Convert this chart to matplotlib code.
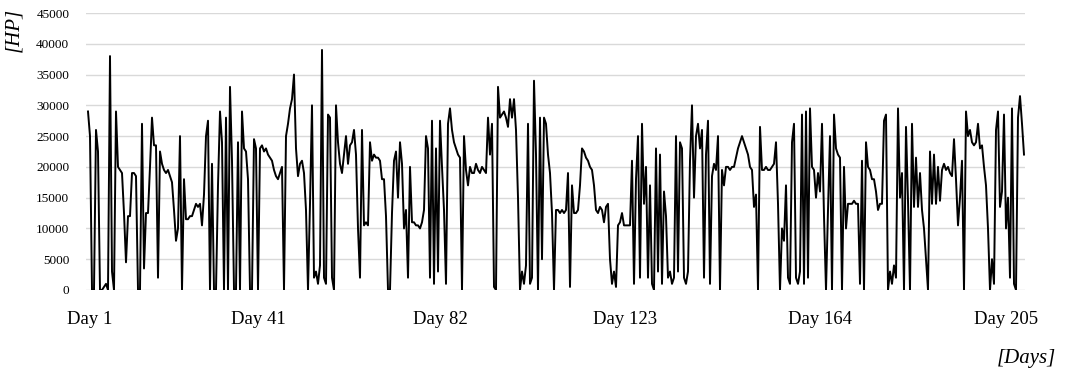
import matplotlib.pyplot as plt

# horsepower readings in thousands of HP, one sample every ~0.44 day
hp_k = [
    29, 25, 0, 0, 26, 22.5, 0, 0, 0.5, 1,
    0, 38, 3, 0, 29, 20, 19.5, 19, 12.5, 4.5,
    12, 12, 19, 19, 18.5, 0, 0, 27, 3.5, 12.5,
    12.5, 20, 28, 23.5, 23.5, 2, 22.5, 20.5, 19.5, 19,
    19.5, 18.5, 17.5, 13, 8, 10, 25, 0, 18, 11.5,
    11.5, 12, 12, 13, 14, 13.5, 14, 10.5, 15.5, 25,
    27.5, 0, 20.5, 0, 0, 17, 29, 24, 0, 28,
    0, 33, 21, 0, 0, 24, 0, 29, 23, 22.5,
    18, 0, 0, 24.5, 23, 0, 23, 23.5, 22.5, 23,
    22, 21.5, 21, 19.5, 18.5, 18, 19, 20, 0, 25,
    27, 29.5, 31, 35, 23, 18.5, 20.5, 21, 19, 13,
    0, 14, 30, 2, 3, 1, 4, 39, 2, 1,
    28.5, 28, 2, 0, 30, 24, 20.5, 19, 22, 25,
    20.5, 23.5, 24, 26, 22, 10, 2, 26, 10.5, 11,
    10.5, 24, 21, 22, 21.5, 21.5, 21, 18, 18, 12,
    0, 0, 12.5, 21, 22.5, 15, 24, 20.5, 10, 13,
    2, 20, 11, 11, 10.5, 10.5, 10, 11, 13, 25,
    23, 2, 27.5, 1, 23, 3, 27.5, 20, 13, 1,
    27, 29.5, 26, 24, 23, 22, 21.5, 0, 25, 19.5,
    17, 20, 19, 19, 20.5, 19.5, 19, 20, 19.5, 19,
    28, 22, 27, 0.5, 0, 33, 28, 28.5, 29, 28,
    26.5, 31, 28, 31, 26, 15, 0, 3, 1, 4,
    27, 1, 2, 34, 22, 0, 28, 5, 28, 27,
    22, 19, 12.5, 0, 13, 13, 12.5, 13, 12.5, 13,
    19, 0.5, 17, 12.5, 12.5, 13, 17, 23, 22.5, 21.5,
    21, 20, 19.5, 17, 13, 12.5, 13.5, 13, 11, 13.5,
    14, 5, 1, 3, 0.5, 10.5, 11, 12.5, 10.5, 10.5,
    10.5, 10.5, 21, 1, 18, 25, 2, 27, 14, 20,
    2, 17, 1, 0, 23, 3, 22, 1, 16, 12,
    2, 3, 1, 2, 25, 3, 24, 23, 2, 1,
    3, 21, 30, 15, 25, 27, 23, 26, 2, 22,
    27.5, 1, 18.5, 20.5, 19.5, 25, 0, 19.5, 17, 20,
    20, 19.5, 20, 20, 21.5, 23, 24, 25, 24, 23,
    22, 20, 19.5, 13.5, 15.5, 0, 26.5, 19.5, 19.5, 20,
    19.5, 19.5, 20, 20.5, 24, 14, 0, 10, 8, 17,
    2, 1, 24, 27, 2, 1, 3, 28.5, 1, 29,
    2, 29.5, 20, 19.5, 15, 19, 16, 27, 12, 0,
    13, 25, 0, 28.5, 23, 22, 21.5, 0, 20, 10,
    14, 14, 14, 14.5, 14, 14, 1, 21, 0, 24,
    20, 19.5, 18, 18, 16, 13, 14, 14, 27.5, 28.5,
    0, 3, 1, 4, 2, 29.5, 15, 19, 0, 26.5,
    14.5, 0, 27, 13.5, 21.5, 13.5, 19, 13, 10, 5,
    0, 22.5, 14, 22, 14, 20, 14.5, 19.5, 20.5, 19.5,
    20, 19, 18.5, 24.5, 18, 10.5, 15, 21, 0, 29,
    25, 26, 24, 23.5, 24, 27, 23, 23.5, 20, 17,
    10, 0, 5, 1, 26, 29, 13.5, 16, 28.5, 10,
    15, 2, 29.5, 1, 0, 28, 31.5, 27, 22,
]
hp = [v * 1000 for v in hp_k]

day_labels = ["Day 1", "Day 41", "Day 82", "Day 123", "Day 164", "Day 205"]
day_ticks = [1, 85, 176, 268.5, 366, 459]  # sample index under each label
y_ticks = list(range(0, 45001, 5000))

plt.rcParams['font.family'] = ['Liberation Serif', 'DejaVu Serif']

fig = plt.figure(figsize=(10.72, 3.76), dpi=100)
ax = fig.add_axes([86 / 1072, 1 - 290 / 376, (1025 - 86) / 1072, (290 - 13) / 376])

ax.plot(range(len(hp)), hp, color='black', linewidth=1.4)

ax.set_xlim(-1, 468.5)
ax.set_ylim(0, 45000)
ax.set_yticks(y_ticks)
ax.set_yticklabels([str(t) for t in y_ticks], fontsize=9.5)
ax.set_xticks(day_ticks)
ax.set_xticklabels(day_labels, fontsize=13.5)
ax.tick_params(axis='y', length=0, pad=12)
ax.tick_params(axis='x', length=0, pad=15)
ax.grid(axis='y', color='#d9d9d9', linewidth=1)
ax.set_axisbelow(True)
for s in ax.spines.values():
    s.set_visible(False)

fig.text(14 / 1072, 1 - 30 / 376, "[HP]", rotation=90, ha='center', va='center',
         fontsize=15, style='italic')
fig.text(1026 / 1072, 1 - 358 / 376, "[Days]", ha='center', va='center',
         fontsize=15, style='italic')

fig.savefig('out.png', dpi=100)
